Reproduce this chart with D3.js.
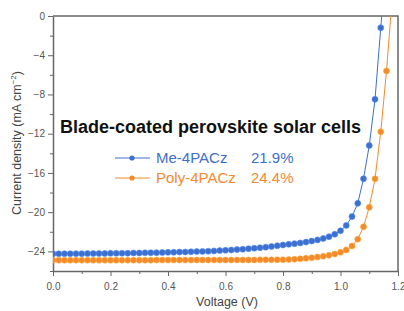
<!DOCTYPE html>
<html lang="en">
<head>
<meta charset="UTF-8">
<title>J-V curves</title>
<script src="https://d3js.org/d3.v7.min.js"></script>
<style>
    body { margin: 0; background: #fff; }
    svg { display: block; font-family: "Liberation Sans", Arial, sans-serif; }
    .axis path, .axis line { stroke: #666; }
    .axis text { fill: #555; font-size: 10px; }
</style>
</head>
<body>
<div id="chart"></div>
<script>
    // voltage points (V)
    const voltage = [0.00, 0.02, 0.04, 0.06, 0.08, 0.10, 0.12, 0.14, 0.16, 0.18,
        0.20, 0.22, 0.24, 0.26, 0.28, 0.30, 0.32, 0.34, 0.36, 0.38,
        0.40, 0.42, 0.44, 0.46, 0.48, 0.50, 0.52, 0.54, 0.56, 0.58,
        0.60, 0.62, 0.64, 0.66, 0.68, 0.70, 0.72, 0.74, 0.76, 0.78,
        0.80, 0.82, 0.84, 0.86, 0.88, 0.90, 0.92, 0.94, 0.96, 0.98,
        1.00, 1.02, 1.04, 1.06, 1.08, 1.10, 1.12, 1.14, 1.16, 1.18];

    // current density (mA cm-2)
    const meCurrent = [-24.25, -24.25, -24.24, -24.24, -24.23, -24.23, -24.22, -24.22, -24.21, -24.21,
        -24.20, -24.20, -24.19, -24.18, -24.17, -24.16, -24.15, -24.14, -24.13, -24.12,
        -24.10, -24.09, -24.07, -24.06, -24.04, -24.02, -24.00, -23.98, -23.95, -23.92,
        -23.89, -23.86, -23.82, -23.78, -23.73, -23.68, -23.63, -23.57, -23.50, -23.43,
        -23.35, -23.28, -23.21, -23.14, -23.05, -22.95, -22.83, -22.68, -22.50, -22.25,
        -21.90, -21.35, -20.45, -19.10, -16.60, -13.20, -8.50, -1.20, 6.00, null];

    const polyCurrent = [-24.90, -24.90, -24.90, -24.90, -24.90, -24.90, -24.90, -24.90, -24.90, -24.90,
        -24.90, -24.90, -24.90, -24.90, -24.90, -24.90, -24.90, -24.90, -24.89, -24.89,
        -24.89, -24.89, -24.89, -24.89, -24.89, -24.88, -24.88, -24.88, -24.88, -24.88,
        -24.88, -24.88, -24.87, -24.87, -24.87, -24.87, -24.86, -24.86, -24.86, -24.85,
        -24.85, -24.83, -24.80, -24.76, -24.71, -24.65, -24.58, -24.50, -24.40, -24.27,
        -24.10, -23.85, -23.45, -22.75, -21.50, -19.50, -16.60, -11.80, -5.60, 2.00];

    const seriesNames = ["Me-4PACz", "Poly-4PACz"];
    const efficiencies = ["21.9%", "24.4%"];
    const colors = ["#3e6fcb", "#f28a2e"];
    const xTicks = [0, 0.2, 0.4, 0.6, 0.8, 1.0, 1.2];
    const yTicks = [0, -4, -8, -12, -16, -20, -24];

    const W = 404, H = 311;
    const margin = {top: 16, right: 5, bottom: 40, left: 53};

    const svg = d3.select("#chart").append("svg")
        .attr("width", W)
        .attr("height", H);

    const x = d3.scaleLinear().domain([0, 1.2]).range([margin.left, 398]);
    const y = d3.scaleLinear().domain([-26, 0]).range([271, margin.top]);

    // clip to plot box
    svg.append("clipPath").attr("id", "clip")
        .append("rect")
        .attr("x", x(0)).attr("y", y(0))
        .attr("width", x(1.2) - x(0)).attr("height", y(-26) - y(0));

    // minor ticks
    svg.append("g")
        .attr("class", "axis")
        .attr("transform", "translate(0," + y(-26) + ")")
        .call(d3.axisBottom(x).tickValues(d3.range(0.1, 1.2, 0.2)).tickSize(3).tickFormat(""))
        .call(g => g.select(".domain").remove());
    svg.append("g")
        .attr("class", "axis")
        .attr("transform", "translate(" + x(0) + ",0)")
        .call(d3.axisLeft(y).tickValues(d3.range(-2, -27, -4)).tickSize(3).tickFormat(""))
        .call(g => g.select(".domain").remove());

    // major axes
    svg.append("g")
        .attr("class", "axis")
        .attr("transform", "translate(0," + y(-26) + ")")
        .call(d3.axisBottom(x).tickValues(xTicks).tickSize(5).tickSizeOuter(0).tickFormat(d3.format(".1f")))
        .call(g => g.select(".domain").attr("stroke-width", 1.5))
        .call(g => g.selectAll("text").attr("dy", "1.1em"));

    svg.append("g")
        .attr("class", "axis")
        .attr("transform", "translate(" + x(0) + ",0)")
        .call(d3.axisLeft(y).tickValues(yTicks).tickSize(5).tickSizeOuter(0).tickFormat(d3.format("d")))
        .call(g => g.select(".domain").attr("stroke-width", 1.5));

    // top and right frame
    svg.append("path")
        .attr("d", "M" + x(0) + "," + y(0) + "H" + x(1.2) + "V" + y(-26))
        .attr("fill", "none")
        .attr("stroke", "#666")
        .attr("stroke-width", 1.5);

    // curves
    const allSeries = [meCurrent, polyCurrent];
    const line = d3.line()
        .defined(d => d.j !== null)
        .x(d => x(d.v))
        .y(d => y(d.j));

    const plot = svg.append("g").attr("clip-path", "url(#clip)");
    allSeries.forEach((vals, i) => {
        const pts = voltage.map((v, k) => ({v: v, j: vals[k]}));
        plot.append("path")
            .datum(pts)
            .attr("fill", "none")
            .attr("stroke", colors[i])
            .attr("stroke-width", 1)
            .attr("d", line);
        plot.selectAll(".dot" + i)
            .data(pts.filter(d => d.j !== null))
            .enter().append("circle")
            .attr("cx", d => x(d.v))
            .attr("cy", d => y(d.j))
            .attr("r", 3)
            .attr("fill", colors[i])
            .attr("stroke", d3.color(colors[i]).brighter(0.6))
            .attr("stroke-width", 0.6);
    });

    // title
    svg.append("text")
        .attr("x", 60)
        .attr("y", 133)
        .attr("font-size", 18)
        .attr("font-weight", "bold")
        .attr("fill", "#111")
        .text("Blade-coated perovskite solar cells");

    // legend
    seriesNames.forEach((name, i) => {
        const ly = 158 + i * 20;
        svg.append("line")
            .attr("x1", 115).attr("x2", 150)
            .attr("y1", ly).attr("y2", ly)
            .attr("stroke", colors[i]).attr("stroke-width", 1);
        svg.append("circle")
            .attr("cx", 132).attr("cy", ly).attr("r", 2.6)
            .attr("fill", colors[i]);
        svg.append("text")
            .attr("x", 156).attr("y", ly + 5)
            .attr("font-size", 15)
            .attr("fill", colors[i])
            .text(name);
        svg.append("text")
            .attr("x", 251).attr("y", ly + 5)
            .attr("font-size", 15)
            .attr("fill", colors[i])
            .text(efficiencies[i]);
    });

    // axis titles
    svg.append("text")
        .attr("x", 227)
        .attr("y", 306)
        .attr("text-anchor", "middle")
        .attr("font-size", 12.5)
        .attr("fill", "#444")
        .text("Voltage (V)");

    const yl = svg.append("text")
        .attr("transform", "translate(21,143) rotate(-90)")
        .attr("text-anchor", "middle")
        .attr("font-size", 12.5)
        .attr("fill", "#444");
    yl.append("tspan").text("Current density (mA cm");
    yl.append("tspan").attr("dy", -5).attr("font-size", 8).text("\u22122");
    yl.append("tspan").attr("dy", 5).text(")");
</script>
</body>
</html>
